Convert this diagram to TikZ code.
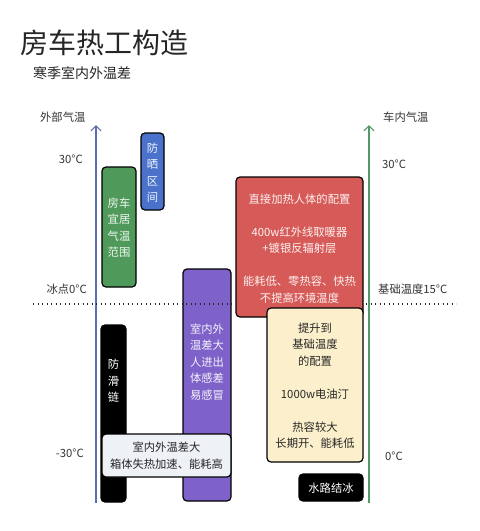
\documentclass[tikz,border=0pt]{standalone}
\usepackage{fontspec}
\setmainfont{Noto Sans CJK SC}
\usetikzlibrary{arrows.meta}
\definecolor{rvGreen}{HTML}{4F9A5A}
\definecolor{rvBlue}{HTML}{4A72CB}
\definecolor{rvPurple}{HTML}{7E62CA}
\definecolor{rvRed}{HTML}{D65A57}
\definecolor{rvCream}{HTML}{FCF0CC}
\definecolor{rvLight}{HTML}{EEF1F6}
\definecolor{rvAxisL}{HTML}{5D6DB2}
\definecolor{rvAxisR}{HTML}{4F9A65}
\tikzset{
  rvbox/.style={draw=black, line width=1.2pt, rounded corners=4pt, inner sep=0pt},
  rvtext/.style={font=\fontsize{11.3}{16.5}\selectfont, align=center, inner sep=0pt},
  rvaxis/.style={line width=1.1pt, -{Straight Barb[length=5pt,width=10pt,line width=1.1pt]}},
  rvlabel/.style={font=\fontsize{11.3}{14}\selectfont, text=black!80, inner sep=0pt}
}
\begin{document}
\begin{tikzpicture}[x=1pt, y=-1pt]
\useasboundingbox[fill=white] (0,0) rectangle (480,531);
% Title
\node[inner sep=0pt, anchor=west, font=\fontsize{28}{30}\selectfont, text=black!85] (title) at (20,43) {房车热工构造};
\node[inner sep=0pt, anchor=west, font=\fontsize{14}{16}\selectfont, text=black!85] (subtitle) at (33,73) {寒季室内外温差};
% Axes
\coordinate (lbot) at (96,503);
\coordinate (ltop) at (96,125);
\coordinate (rbot) at (369,503);
\coordinate (rtop) at (369,125);
\draw[rvaxis, rvAxisL] (lbot) -- (ltop);
\draw[rvaxis, rvAxisR] (rbot) -- (rtop);
\node[rvlabel, anchor=west] (outlabel) at (40,117) {外部气温};
\node[rvlabel, anchor=west] (inlabel) at (383,117) {车内气温};
% Temperature marks
\node[rvlabel, anchor=east] (l30) at (83,159) {30°C};
\node[rvlabel, anchor=east] (l0) at (87,289) {冰点0°C};
\node[rvlabel, anchor=east] (lm30) at (84,453) {-30°C};
\node[rvlabel, anchor=west] (r30) at (382,164) {30°C};
\node[rvlabel, anchor=west] (r15) at (378,289) {基础温度15°C};
\node[rvlabel, anchor=west] (r0) at (385,456) {0°C};
% Outside boxes
\node[rvbox, fill=rvGreen, minimum width=34pt, minimum height=120pt] (comfort) at (119,227) {};
\node[rvtext, text=white!92!rvGreen] (comforttxt) at (119,227.5) {房车\\宜居\\气温\\范围};
\node[rvbox, fill=rvBlue, minimum width=23pt, minimum height=77pt] (sun) at (152.5,171.5) {};
\node[rvtext, text=white!92!rvBlue] (suntxt) at (152.5,172.5) {防\\晒\\区\\间};
\node[rvbox, fill=rvPurple, minimum width=48pt, minimum height=232pt] (gap) at (207,385) {};
\node[rvtext, text=white!92!rvPurple] (gaptxt) at (207,362) {室内外\\温差大\\人进出\\体感差\\易感冒};
% Freezing line
\coordinate (fzl) at (33,304);
\coordinate (fzr) at (456,304);
\draw[line width=1.4pt, dash pattern=on 1.4pt off 3.1pt, black!85] (fzl) -- (fzr);
\node[rvbox, fill=black, minimum width=25pt, minimum height=177pt] (chain) at (113.5,413.5) {};
\node[rvtext, text=white!85] (chaintxt) at (113.5,381) {防\\滑\\链};
\node[rvbox, fill=rvLight, minimum width=129pt, minimum height=43pt] (loss) at (166.5,455.5) {};
\node[rvtext, text=black!85] (losstxt) at (166.5,455.5) {室内外温差大\\箱体失热加速、能耗高};
% Inside boxes
\node[rvbox, fill=rvRed, minimum width=127pt, minimum height=140pt] (direct) at (299.5,247) {};
\node[rvtext, text=white!92!rvRed] (directtxt) at (299.5,248.5) {直接加热人体的配置\\[16.5pt]400w红外线取暖器\\+镀银反辐射层\\[16.5pt]能耗低、零热容、快热\\不提高环境温度};
\node[rvbox, fill=rvCream, minimum width=96pt, minimum height=154pt] (base) at (315,385) {};
\node[rvtext, text=black!85] (basetxt) at (315,385.5) {提升到\\基础温度\\的配置\\[16.5pt]1000w电油汀\\[16.5pt]热容较大\\长期开、能耗低};
\node[rvbox, fill=black, minimum width=64pt, minimum height=27pt] (ice) at (331,487.5) {};
\node[rvtext, text=white!90] (icetxt) at (331,488) {水路结冰};
\end{tikzpicture}
\end{document}
